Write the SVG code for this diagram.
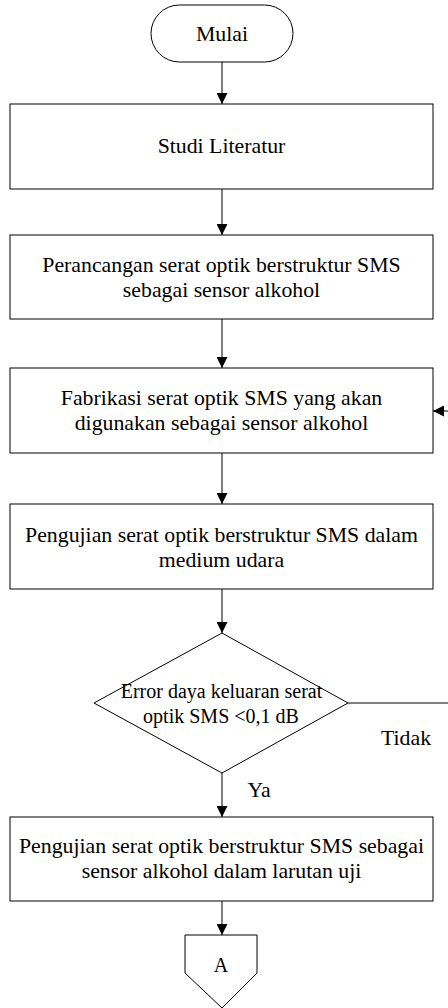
<svg xmlns="http://www.w3.org/2000/svg" width="448" height="1008" viewBox="0 0 448 1008">
<style>
.s{fill:#fff;stroke:#000;stroke-width:1}
.t{font-family:'Liberation Serif','Times New Roman',serif;font-size:21.8px;fill:#000;text-anchor:middle}
.d{font-size:20px}
.l{fill:none;stroke:#000;stroke-width:1}
</style>
<defs>
<marker id="ah" markerWidth="11" markerHeight="11" refX="11" refY="5.5" orient="auto" markerUnits="userSpaceOnUse">
<path d="M0,0 L11,5.5 L0,11 Z" fill="#000"/>
</marker>
</defs>
<rect width="448" height="1008" fill="#fff"/>
<g id="connectors">
<line class="l" x1="222" y1="62" x2="222" y2="104" marker-end="url(#ah)"/>
<line class="l" x1="222" y1="189" x2="222" y2="235" marker-end="url(#ah)"/>
<line class="l" x1="222" y1="319" x2="222" y2="368" marker-end="url(#ah)"/>
<line class="l" x1="222" y1="453" x2="222" y2="504" marker-end="url(#ah)"/>
<line class="l" x1="222" y1="589" x2="222" y2="633" marker-end="url(#ah)"/>
<line class="l" x1="222" y1="773" x2="222" y2="817" marker-end="url(#ah)"/>
<line class="l" x1="222" y1="901" x2="222" y2="935" marker-end="url(#ah)"/>
<line class="l" x1="348" y1="703" x2="448" y2="703"/>
<line class="l" x1="448" y1="411" x2="433" y2="411" marker-end="url(#ah)"/>
<text class="t" x="406" y="745">Tidak</text>
<text class="t" x="259" y="797">Ya</text>
</g>
<g id="start">
<rect class="s" x="151" y="5" width="142" height="57" rx="28.5"/>
<text class="t" x="222" y="41">Mulai</text>
</g>
<g id="studi">
<rect class="s" x="10" y="104" width="423" height="85"/>
<text class="t" x="221.5" y="153">Studi Literatur</text>
</g>
<g id="perancangan">
<rect class="s" x="10" y="235" width="423" height="84"/>
<text class="t" x="221.5" y="272">Perancangan serat optik berstruktur SMS</text>
<text class="t" x="221.5" y="297">sebagai sensor alkohol</text>
</g>
<g id="fabrikasi">
<rect class="s" x="10" y="368" width="423" height="85"/>
<text class="t" x="221.5" y="405">Fabrikasi serat optik SMS yang akan</text>
<text class="t" x="221.5" y="430">digunakan sebagai sensor alkohol</text>
</g>
<g id="pengujian-udara">
<rect class="s" x="10" y="504" width="423" height="85"/>
<text class="t" x="221.5" y="542">Pengujian serat optik berstruktur SMS dalam</text>
<text class="t" x="221.5" y="567">medium udara</text>
</g>
<g id="decision">
<polygon class="s" points="222,633 348,703 222,773 94,703"/>
<text class="t d" x="221.5" y="698">Error daya keluaran serat</text>
<text class="t d" x="221" y="722.5">optik SMS &lt;0,1 dB</text>
</g>
<g id="pengujian-larutan">
<rect class="s" x="10" y="817" width="423" height="84"/>
<text class="t" x="221.5" y="853">Pengujian serat optik berstruktur SMS sebagai</text>
<text class="t" x="221.5" y="877.5">sensor alkohol dalam larutan uji</text>
</g>
<g id="connector-a">
<polygon class="s" points="185,935 257,935 257,973 222,1008 185,973"/>
<text class="t d" x="221" y="972">A</text>
</g>
</svg>
